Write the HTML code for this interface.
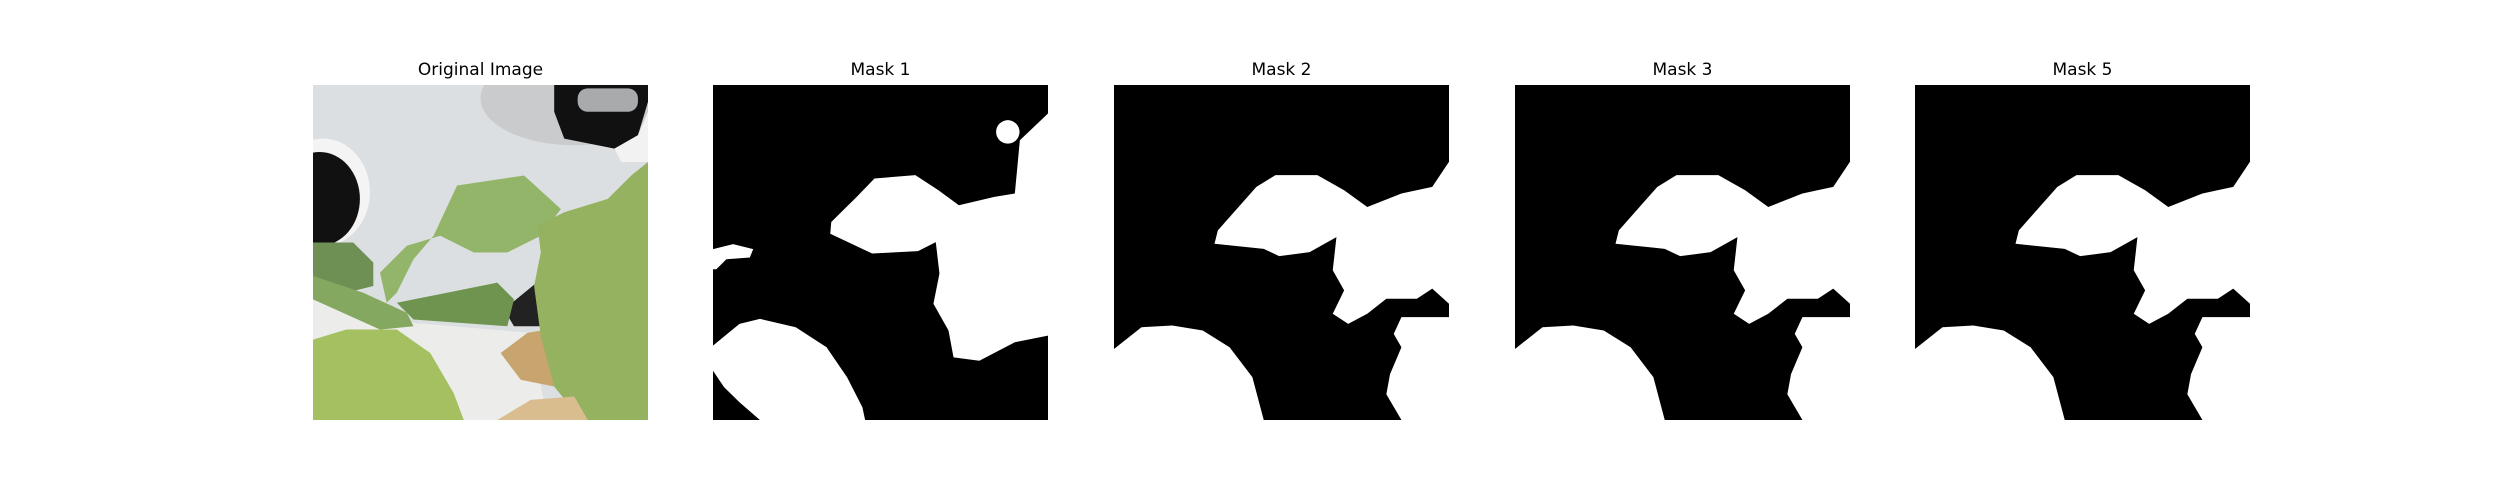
<!DOCTYPE html>
<html><head><meta charset="utf-8">
<style>
html,body{margin:0;padding:0;background:#fff;}
#fig{position:relative;width:2500px;height:500px;background:#fff;font-family:"DejaVu Sans","Liberation Sans",sans-serif;}
.title{position:absolute;top:60px;width:335px;text-align:center;font-size:17px;color:#000;}
svg.panel{position:absolute;top:85px;width:335px;height:335px;}
</style></head>
<body>
<div id="fig">
  <div class="title" style="left:313px">Original Image</div>
  <div class="title" style="left:713px">Mask 1</div>
  <div class="title" style="left:1114px">Mask 2</div>
  <div class="title" style="left:1515px">Mask 3</div>
  <div class="title" style="left:1915px">Mask 5</div>

  <svg class="panel" style="left:313px" viewBox="0 0 100 100" preserveAspectRatio="none">
    <rect x="0" y="0" width="100" height="100" fill="#dcdfe1"/>
    <ellipse cx="78" cy="4" rx="28" ry="14" fill="#c9cbcc"/>
    <polygon points="72,0 100,0 100,5 97,15 90,19 75,16 72,8" fill="#111"/>
    <rect x="79" y="1" width="18" height="7" rx="3" fill="#a8aaab"/>
    <polygon points="90,19 97,15 100,8 100,23 92,23" fill="#f2f2f2"/>
    <ellipse cx="3" cy="32" rx="14" ry="16" fill="#f4f4f4"/>
    <ellipse cx="2" cy="34" rx="12" ry="14" fill="#111"/>
    <polygon points="0,63 5,63 30,71 65,74 70,100 0,100" fill="#ececea"/>
    <polygon points="57,67 68,58 70,72 60,72" fill="#222"/>
    <polygon points="43,30 63,27 74,37 68,45 58,50 48,50 38,45 28,48 20,56 22,65 25,62 30,52 36,45" fill="#93b56a"/>
    <polygon points="0,47 12,47 18,53 18,60 10,62 0,58" fill="#6f9055"/>
    <polygon points="25,65 40,62 55,59 60,64 58,72 30,70" fill="#6e9450"/>
    <polygon points="0,57 15,62 28,68 30,72 20,73 0,64" fill="#85a860"/>
    <polygon points="0,76 10,73 25,73 35,80 42,92 45,100 0,100" fill="#a4c060"/>
    <polygon points="56,80 64,74 70,73 72,90 62,88" fill="#c8a46e"/>
    <polygon points="67,42 75,38 88,34 95,27 100,23 100,100 80,100 72,90 68,75 66,60 68,50" fill="#94b25f"/>
    <polygon points="55,100 65,94 78,93 82,100" fill="#d9bd8e"/>
  </svg>

  <svg class="panel" style="left:713px" viewBox="0 0 100 100" preserveAspectRatio="none">
    <rect x="0" y="0" width="100" height="100" fill="#000"/>
    <polygon fill="#fff" points="100,8.5 91.6,16.5 90.1,32.4 84,33.4 73.4,35.9 67.3,31.4 60.4,26.9 48.2,27.9 42.9,33.4 35.3,40.9 35,44.4 47.5,50.3 61.2,49.6 66.5,46.9 67.6,56.3 65.8,65.3 70.3,73.3 71.8,81.3 79.5,82.3 90.1,76.8 100,74.8"/>
    <polygon fill="#fff" points="0,77.8 7.9,71.3 14,69.8 24.7,72.3 33.9,78.3 40,87.2 44.6,96.2 45.4,100 14,100 7.9,94.7 3.3,90.2 0,85.3"/>
    <ellipse cx="88" cy="14" rx="3.5" ry="3.5" fill="#fff"/>
    <polygon fill="#fff" points="0,49 6,47.5 12,49 11,51.5 4,52 1,55 0,55"/>
  </svg>

  <svg class="panel" style="left:1114px" viewBox="0 0 100 100" preserveAspectRatio="none">
    <rect x="0" y="0" width="100" height="100" fill="#000"/>
    <polygon fill="#fff" points="100,22.9 95,30.4 85.8,32.4 75.6,36.4 68.7,31.4 60.7,26.9 48.2,26.9 42.5,30.4 31,43.4 30,47.4 44.7,48.9 49.3,51.1 58.4,49.9 66.4,45.4 65.3,55.3 68.7,61.3 65.3,68.3 69.9,71.3 75.6,68.3 81.3,63.8 90.4,63.8 95,60.8 100,65.3"/>
    <polygon fill="#fff" points="100,69.3 85.8,69.3 83.5,74.3 85.8,78.3 82.4,86.3 81.3,92.3 85.8,100 100,100"/>
    <polygon fill="#fff" points="0,78.8 8.2,72.3 17.4,71.8 26.5,73.3 34.5,78.3 41.3,87.2 44.7,100 0,100"/>
  </svg>

  <svg class="panel" style="left:1515px" viewBox="0 0 100 100" preserveAspectRatio="none">
    <rect x="0" y="0" width="100" height="100" fill="#000"/>
    <polygon fill="#fff" points="100,22.9 95,30.4 85.8,32.4 75.6,36.4 68.7,31.4 60.7,26.9 48.2,26.9 42.5,30.4 31,43.4 30,47.4 44.7,48.9 49.3,51.1 58.4,49.9 66.4,45.4 65.3,55.3 68.7,61.3 65.3,68.3 69.9,71.3 75.6,68.3 81.3,63.8 90.4,63.8 95,60.8 100,65.3"/>
    <polygon fill="#fff" points="100,69.3 85.8,69.3 83.5,74.3 85.8,78.3 82.4,86.3 81.3,92.3 85.8,100 100,100"/>
    <polygon fill="#fff" points="0,78.8 8.2,72.3 17.4,71.8 26.5,73.3 34.5,78.3 41.3,87.2 44.7,100 0,100"/>
  </svg>

  <svg class="panel" style="left:1915px" viewBox="0 0 100 100" preserveAspectRatio="none">
    <rect x="0" y="0" width="100" height="100" fill="#000"/>
    <polygon fill="#fff" points="100,22.9 95,30.4 85.8,32.4 75.6,36.4 68.7,31.4 60.7,26.9 48.2,26.9 42.5,30.4 31,43.4 30,47.4 44.7,48.9 49.3,51.1 58.4,49.9 66.4,45.4 65.3,55.3 68.7,61.3 65.3,68.3 69.9,71.3 75.6,68.3 81.3,63.8 90.4,63.8 95,60.8 100,65.3"/>
    <polygon fill="#fff" points="100,69.3 85.8,69.3 83.5,74.3 85.8,78.3 82.4,86.3 81.3,92.3 85.8,100 100,100"/>
    <polygon fill="#fff" points="0,78.8 8.2,72.3 17.4,71.8 26.5,73.3 34.5,78.3 41.3,87.2 44.7,100 0,100"/>
  </svg>
</div>
</body></html>
